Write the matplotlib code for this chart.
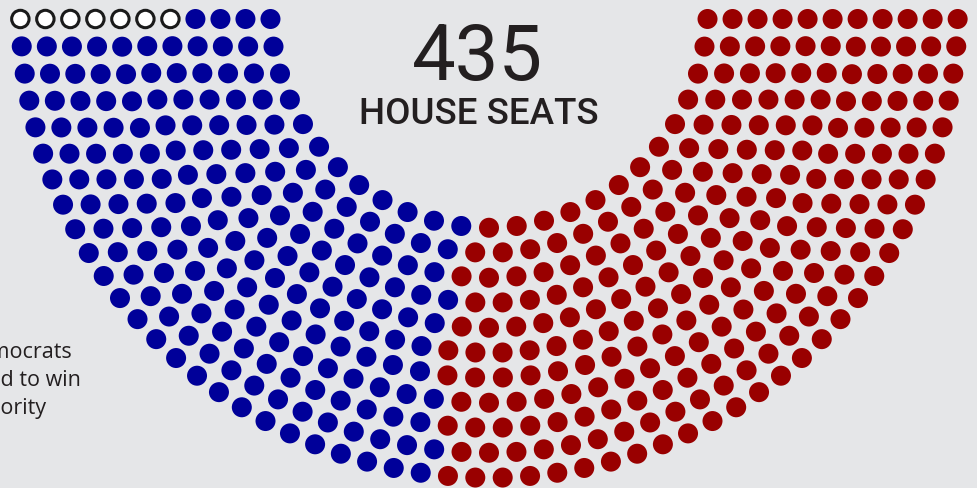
import numpy as np
import matplotlib
matplotlib.use("Agg")
import matplotlib.pyplot as plt
from matplotlib.patches import Circle

# seat groups, in the order they fill the arch from the left
parties = ["Undecided", "Democrats", "Republicans"]
seats = [7, 194, 234]
face_colors = ["#ffffff", "#000099", "#990000"]
edge_colors = ["#1a1a1a", "#000099", "#990000"]

total_label = "435"
sub_label = "HOUSE SEATS"
note_lines = ["Democrats", "need to win", "majority"]

bg = "#e5e6e8"
ink = "#231f20"


def row_capacity(rows):
    return sum(int(np.pi / (2 * np.arcsin(2.0 / (3 * rows + 4 * i - 2))))
               for i in range(1, rows + 1))


def arch_positions(n):
    """seat centres on a half ring (usual parliament diagram rule)"""
    rows = 1
    while row_capacity(rows) < n:
        rows += 1
    total = row_capacity(rows)
    rad = 0.4 / rows
    pos = []
    for i in range(1, rows):
        J = int(float(n) / total * np.pi / (2 * np.arcsin(2.0 / (3 * rows + 4 * i - 2))))
        R = (3.0 * rows + 4.0 * i - 2.0) / (4.0 * rows)
        off = np.sin(rad / R)
        for j in range(J):
            a = j * (np.pi - 2 * off) / (J - 1) + off
            pos.append((a, R))
    # whatever is left goes in the outer row
    J = n - len(pos)
    R = (7.0 * rows - 2.0) / (4.0 * rows)
    off = np.sin(rad / R)
    for j in range(J):
        a = j * (np.pi - 2 * off) / (J - 1) + off
        pos.append((a, R))
    pos.sort(reverse=True)
    pos = np.array(pos)
    x = pos[:, 1] * np.cos(pos[:, 0])
    y = -pos[:, 1] * np.sin(pos[:, 0])   # bowl shape, opening upward
    return x, y, rad


W, H = 978, 488
fig = plt.figure(figsize=(W / 100, H / 100), dpi=100, facecolor=bg)
ax = fig.add_axes([0, 0, 1, 1])
ax.set_facecolor(bg)

scale = 275.0   # px per unit
cx, cy = 489.0, 9.0
ax.set_xlim(-cx / scale, (W - cx) / scale)
ax.set_ylim(-(H - cy) / scale, cy / scale)
ax.axis("off")

x, y, rad = arch_positions(sum(seats))
k = 0
for p, cnt in enumerate(seats):
    for s in range(cnt):
        if p == 0:
            c = Circle((x[k], y[k]), rad - 1.3 / scale, facecolor=face_colors[p],
                       edgecolor=edge_colors[p], linewidth=2.2)
        else:
            c = Circle((x[k], y[k]), rad, facecolor=face_colors[p],
                       edgecolor="none")
        ax.add_patch(c)
        k += 1

# centre labels
fig.text(478 / W, 1 - 80 / H, total_label, ha="center", va="baseline",
         fontsize=56, fontfamily="Roboto", fontweight="normal", color=ink)
fig.text(479 / W, 1 - 124 / H, sub_label, ha="center", va="baseline",
         fontsize=26.5, fontfamily="Roboto", fontweight="medium", color=ink)

# side note, cut off at the left edge like the original
txts = []
for i, line in enumerate(note_lines):
    t = fig.text(0, 1 - (358 + 28 * i) / H, line, ha="left", va="baseline",
                 fontsize=15.5, fontfamily="Open Sans", color=ink)
    txts.append(t)
fig.canvas.draw()
r = fig.canvas.get_renderer()
w0 = txts[0].get_window_extent(r).width
x0 = 73 - w0
for t in txts:
    t.set_x(x0 / W)

fig.savefig("out.png", dpi=100, facecolor=bg)
